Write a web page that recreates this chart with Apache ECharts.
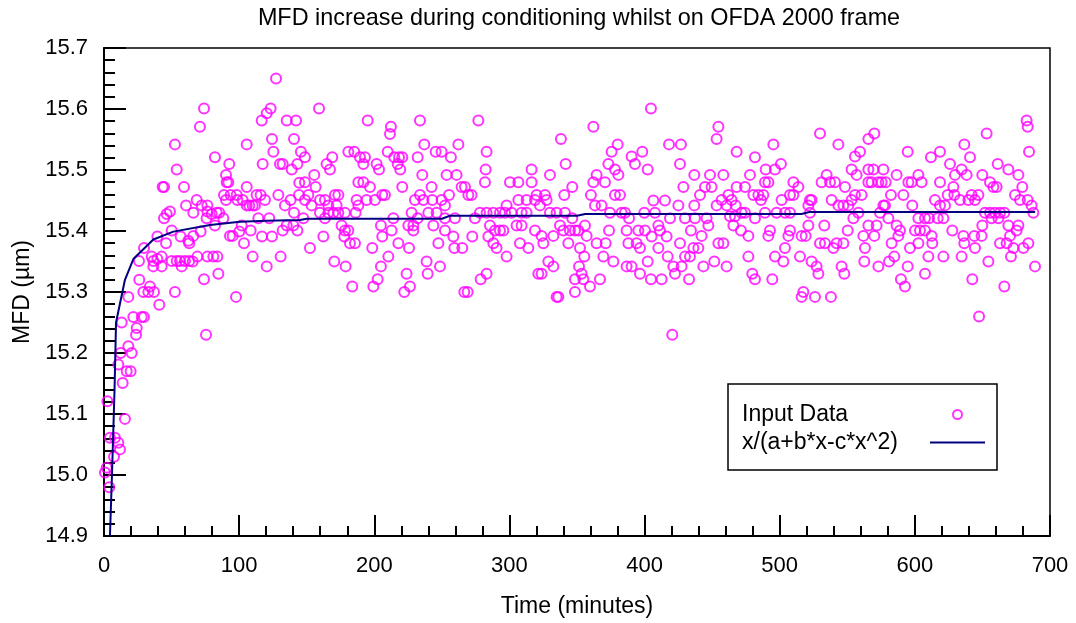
<!DOCTYPE html>
<html>
<head>
<meta charset="utf-8">
<script src="https://cdn.jsdelivr.net/npm/echarts@6/dist/echarts.min.js"></script>
<style>
html,body{margin:0;padding:0;background:#fff;}
#chart{width:1076px;height:623px;}
</style>
</head>
<body>
<div id="chart"></div>
<script>
// ---- Data ----
const chartTitle = 'MFD increase during conditioning whilst on OFDA 2000 frame';
const xAxisName = 'Time (minutes)';
const yAxisName = 'MFD (µm)';
const seriesNames = ['Input Data', 'x/(a+b*x-c*x^2)'];
const xTicks = [0, 100, 200, 300, 400, 500, 600, 700];
const yTicks = [14.9, 15.0, 15.1, 15.2, 15.3, 15.4, 15.5, 15.6, 15.7];

// Input data, [time (min), MFD (µm)], grouped by time range
const input0to145 = [[2.0,15.012],[0.7,15.004],[3.9,14.980],[2.5,15.121],[8.1,15.061],[4.4,15.061],[10.6,15.053],[11.8,15.042],[7.4,15.030],[15.5,15.092],[13.8,15.151],[16.8,15.170],[19.7,15.170],[10.6,15.181],[12.3,15.200],[20.5,15.200],[18.0,15.211],[23.7,15.230],[24.2,15.241],[21.7,15.259],[27.9,15.259],[29.6,15.259],[13.1,15.250],[18.0,15.292],[26.1,15.320],[29.1,15.300],[32.8,15.300],[34.0,15.309],[37.0,15.300],[40.9,15.279],[52.5,15.300],[75.5,15.230],[97.7,15.292],[74.0,15.321],[84.6,15.330],[25.9,15.351],[29.6,15.372],[35.3,15.358],[36.5,15.351],[39.5,15.354],[36.5,15.342],[42.7,15.342],[42.7,15.358],[50.1,15.351],[53.8,15.351],[56.2,15.351],[57.5,15.342],[59.9,15.351],[63.1,15.351],[65.6,15.350],[69.1,15.358],[76.5,15.358],[80.9,15.358],[83.9,15.358],[110.0,15.358],[120.4,15.342],[130.7,15.358],[45.9,15.380],[39.5,15.391],[50.1,15.401],[56.7,15.391],[63.1,15.380],[62.4,15.384],[66.1,15.392],[71.5,15.399],[82.1,15.409],[75.9,15.421],[79.7,15.428],[83.4,15.430],[85.3,15.430],[88.3,15.421],[93.2,15.392],[95.2,15.392],[103.6,15.380],[100.1,15.399],[101.9,15.409],[108.5,15.401],[116.9,15.391],[124.3,15.391],[132.2,15.401],[135.2,15.409],[140.1,15.409],[143.1,15.401],[122.3,15.421],[114.2,15.421],[44.4,15.421],[46.4,15.428],[48.8,15.432],[60.7,15.442],[66.1,15.430],[68.6,15.451],[72.3,15.442],[76.5,15.442],[76.5,15.432],[88.8,15.459],[90.3,15.451],[93.7,15.459],[98.2,15.459],[98.7,15.451],[102.6,15.451],[105.6,15.472],[105.6,15.442],[107.5,15.442],[110.0,15.442],[111.7,15.442],[112.9,15.459],[115.9,15.459],[119.1,15.451],[129.0,15.459],[133.9,15.442],[138.1,15.451],[140.6,15.430],[144.3,15.459],[144.5,15.479],[43.4,15.472],[44.4,15.472],[59.2,15.472],[53.8,15.501],[52.5,15.542],[71.0,15.571],[74.0,15.601],[82.1,15.521],[92.7,15.510],[90.3,15.492],[90.8,15.480],[92.0,15.480],[105.6,15.542],[117.4,15.510],[124.3,15.551],[125.3,15.530],[130.2,15.510],[132.2,15.510],[138.9,15.501],[140.6,15.551],[143.1,15.510],[116.7,15.581],[120.4,15.593],[123.3,15.601],[135.2,15.581],[142.1,15.581],[127.3,15.650]];

const input145to285 = [[159.1,15.601],[145.7,15.530],[148.7,15.521],[148.7,15.480],[155.6,15.492],[156.6,15.472],[151.2,15.459],[148.7,15.451],[153.6,15.442],[159.8,15.451],[163.5,15.451],[166.0,15.442],[170.9,15.459],[173.4,15.459],[172.1,15.442],[147.5,15.421],[159.8,15.430],[163.5,15.421],[166.0,15.430],[169.7,15.430],[173.4,15.430],[178.3,15.430],[162.3,15.391],[152.4,15.372],[170.4,15.350],[178.8,15.342],[183.7,15.309],[175.8,15.409],[178.3,15.401],[180.8,15.401],[177.8,15.391],[182.0,15.380],[185.7,15.380],[186.2,15.430],[188.2,15.442],[186.9,15.451],[191.9,15.480],[188.2,15.480],[196.8,15.472],[194.3,15.451],[200.5,15.451],[164.7,15.510],[167.2,15.501],[168.9,15.521],[180.8,15.530],[185.2,15.530],[189.4,15.521],[193.1,15.521],[191.9,15.510],[201.7,15.510],[203.5,15.501],[195.1,15.581],[212.3,15.571],[211.6,15.559],[209.9,15.530],[214.8,15.521],[218.3,15.521],[220.7,15.521],[217.3,15.510],[219.2,15.501],[207.9,15.459],[205.9,15.459],[220.7,15.472],[204.9,15.409],[205.9,15.391],[212.8,15.401],[214.1,15.421],[198.5,15.372],[204.9,15.342],[210.4,15.358],[202.5,15.321],[199.3,15.309],[217.8,15.380],[225.7,15.372],[223.9,15.330],[226.4,15.309],[222.2,15.300],[227.6,15.430],[225.2,15.409],[228.9,15.409],[228.9,15.401],[232.1,15.421],[230.1,15.451],[233.8,15.459],[236.3,15.451],[232.1,15.521],[235.5,15.492],[233.8,15.581],[237.0,15.542],[242.4,15.472],[242.9,15.451],[240.0,15.430],[243.7,15.409],[246.1,15.430],[249.8,15.451],[252.3,15.442],[255.3,15.459],[253.5,15.492],[260.9,15.492],[264.6,15.472],[267.1,15.472],[269.6,15.459],[272.0,15.459],[256.7,15.521],[245.4,15.530],[249.8,15.530],[262.2,15.542],[277.0,15.581],[283.1,15.530],[282.4,15.501],[281.9,15.480],[252.3,15.421],[259.7,15.421],[252.3,15.401],[258.5,15.391],[259.2,15.372],[265.1,15.372],[247.4,15.380],[248.6,15.342],[238.7,15.350],[239.5,15.330],[266.6,15.300],[269.1,15.300],[272.5,15.391],[274.5,15.421],[278.2,15.430],[283.1,15.430],[285.6,15.409],[284.4,15.391],[278.7,15.321],[283.1,15.330]];

const input285to425 = [[404.7,15.601],[362.1,15.571],[338.1,15.551],[341.6,15.510],[316.4,15.501],[330.0,15.492],[300.4,15.480],[306.6,15.480],[316.4,15.480],[346.5,15.472],[340.6,15.459],[320.1,15.459],[326.3,15.459],[297.9,15.442],[306.6,15.451],[312.7,15.451],[318.9,15.451],[322.6,15.442],[327.5,15.451],[288.1,15.430],[293.0,15.430],[296.7,15.430],[301.6,15.430],[309.0,15.430],[312.7,15.430],[330.0,15.430],[334.9,15.430],[341.1,15.430],[346.5,15.421],[289.3,15.401],[293.0,15.401],[295.5,15.401],[305.3,15.409],[309.0,15.409],[288.1,15.380],[290.5,15.372],[297.9,15.358],[307.8,15.380],[314.0,15.372],[318.9,15.401],[323.8,15.392],[325.1,15.380],[332.5,15.392],[337.4,15.409],[339.9,15.401],[344.8,15.401],[348.5,15.401],[351.0,15.401],[355.9,15.409],[357.1,15.392],[343.6,15.380],[352.2,15.372],[355.4,15.358],[328.8,15.350],[332.5,15.342],[321.4,15.330],[323.8,15.330],[351.5,15.342],[353.4,15.330],[348.5,15.321],[354.7,15.321],[359.6,15.309],[348.5,15.300],[336.2,15.292],[334.9,15.292],[367.0,15.321],[362.1,15.480],[364.5,15.492],[360.3,15.459],[363.3,15.442],[368.2,15.442],[370.7,15.480],[373.2,15.510],[375.6,15.530],[380.1,15.542],[378.1,15.501],[380.6,15.492],[378.1,15.459],[381.8,15.459],[374.4,15.430],[383.0,15.430],[385.5,15.430],[388.5,15.421],[399.8,15.430],[407.7,15.430],[410.2,15.409],[406.5,15.450],[415.1,15.450],[418.8,15.421],[373.7,15.401],[386.7,15.401],[395.4,15.401],[400.3,15.401],[405.2,15.391],[411.4,15.401],[416.3,15.391],[364.5,15.380],[371.2,15.380],[369.5,15.358],[376.9,15.350],[388.0,15.380],[394.1,15.380],[396.6,15.372],[410.2,15.372],[417.1,15.358],[386.7,15.342],[390.4,15.342],[396.6,15.330],[402.3,15.350],[404.7,15.321],[412.6,15.321],[421.3,15.342],[422.5,15.330],[420.5,15.230],[390.4,15.522],[392.9,15.510],[398.3,15.530],[402.3,15.501],[418.1,15.542]];

const input425to565 = [[454.6,15.571],[453.3,15.551],[426.9,15.542],[495.3,15.542],[468.1,15.530],[481.7,15.521],[426.2,15.510],[448.4,15.492],[458.3,15.492],[436.8,15.492],[428.7,15.472],[444.7,15.472],[449.6,15.472],[441.0,15.459],[425.0,15.442],[436.8,15.442],[453.3,15.442],[457.0,15.451],[462.0,15.459],[464.4,15.451],[468.1,15.472],[474.3,15.472],[467.4,15.442],[460.7,15.442],[463.2,15.424],[466.9,15.424],[471.8,15.430],[474.3,15.430],[429.9,15.421],[437.3,15.421],[445.9,15.421],[480.5,15.459],[484.2,15.459],[487.9,15.459],[486.1,15.451],[478.0,15.492],[489.6,15.501],[496.5,15.501],[500.9,15.510],[491.6,15.480],[489.1,15.480],[501.4,15.451],[481.7,15.421],[489.1,15.430],[497.7,15.430],[503.9,15.430],[507.6,15.430],[510.1,15.480],[513.8,15.472],[510.1,15.459],[507.6,15.459],[522.4,15.451],[523.6,15.451],[521.2,15.442],[522.4,15.430],[529.8,15.560],[543.4,15.542],[534.7,15.492],[531.0,15.480],[537.2,15.480],[540.9,15.480],[548.3,15.472],[538.4,15.451],[543.4,15.442],[547.1,15.442],[550.8,15.442],[553.2,15.451],[555.7,15.459],[560.6,15.459],[556.9,15.492],[555.7,15.522],[559.4,15.530],[553.2,15.501],[565.6,15.551],[565.6,15.501],[565.6,15.480],[558.2,15.430],[554.5,15.421],[426.2,15.380],[434.3,15.401],[442.2,15.392],[447.2,15.409],[454.6,15.380],[458.3,15.380],[465.7,15.409],[471.3,15.401],[476.8,15.392],[491.6,15.392],[492.8,15.401],[507.6,15.401],[506.4,15.392],[516.2,15.392],[519.2,15.392],[521.2,15.409],[533.0,15.409],[529.8,15.380],[533.5,15.380],[539.7,15.372],[542.1,15.380],[547.1,15.380],[550.3,15.401],[561.9,15.392],[565.6,15.409],[563.1,15.372],[436.1,15.372],[439.8,15.372],[429.9,15.358],[433.6,15.358],[443.5,15.342],[451.6,15.350],[460.7,15.342],[476.8,15.358],[496.5,15.358],[503.9,15.372],[502.7,15.350],[515.0,15.358],[523.6,15.350],[527.3,15.342],[528.6,15.330],[545.8,15.342],[547.8,15.330],[562.6,15.350],[427.4,15.342],[432.9,15.321],[479.7,15.330],[481.7,15.321],[494.5,15.321],[517.5,15.300],[516.2,15.292],[526.1,15.292],[537.9,15.292]];

const input565to690 = [[570.0,15.560],[594.7,15.530],[618.6,15.530],[611.9,15.521],[636.6,15.542],[640.8,15.521],[653.1,15.560],[684.5,15.530],[682.7,15.581],[683.5,15.571],[569.3,15.501],[576.7,15.501],[586.5,15.492],[602.6,15.492],[626.0,15.510],[634.6,15.501],[629.7,15.492],[638.3,15.492],[649.9,15.492],[661.3,15.510],[669.2,15.501],[676.6,15.492],[568.0,15.480],[573.0,15.480],[575.4,15.480],[578.4,15.480],[595.2,15.480],[597.6,15.480],[605.0,15.480],[618.6,15.480],[628.5,15.472],[655.6,15.480],[658.1,15.472],[660.5,15.472],[679.5,15.472],[582.3,15.459],[591.5,15.459],[598.1,15.442],[577.9,15.442],[576.7,15.442],[614.9,15.451],[618.6,15.442],[622.3,15.442],[624.3,15.459],[629.2,15.459],[633.4,15.451],[639.6,15.451],[642.0,15.459],[647.0,15.459],[644.5,15.451],[674.1,15.459],[677.8,15.451],[683.5,15.451],[686.4,15.442],[687.7,15.430],[574.2,15.430],[580.4,15.421],[602.6,15.421],[607.5,15.421],[610.5,15.421],[616.9,15.421],[621.1,15.421],[651.9,15.430],[655.6,15.430],[659.3,15.430],[663.0,15.430],[666.2,15.430],[656.8,15.421],[661.8,15.421],[571.7,15.409],[586.5,15.409],[570.0,15.392],[589.0,15.401],[587.8,15.392],[600.1,15.401],[603.8,15.401],[607.5,15.401],[612.4,15.392],[627.7,15.401],[635.9,15.392],[644.0,15.392],[649.4,15.392],[649.9,15.409],[669.2,15.409],[676.6,15.409],[675.3,15.401],[670.4,15.392],[582.8,15.380],[602.6,15.380],[612.9,15.380],[636.6,15.380],[663.0,15.380],[667.9,15.380],[684.0,15.380],[596.4,15.372],[644.5,15.372],[672.9,15.372],[680.3,15.372],[573.0,15.342],[580.9,15.350],[584.8,15.358],[594.7,15.342],[610.0,15.358],[621.1,15.358],[634.6,15.358],[654.4,15.350],[671.1,15.358],[688.9,15.342],[589.7,15.321],[592.7,15.309],[607.5,15.330],[642.5,15.321],[666.2,15.309],[647.5,15.260]];

// Fitted curve
const fitTime = [4.4, 5.9, 7.8, 8.9, 15.5, 21.7, 36.5, 51.3, 78.4, 100.6, 120.4, 145, 150, 250, 256, 350, 356, 516, 522, 689];
const fitMfd  = [14.90, 15.00, 15.14, 15.25, 15.32, 15.354, 15.386, 15.399, 15.410, 15.415, 15.417, 15.418, 15.420, 15.420, 15.425, 15.425, 15.428, 15.428, 15.431, 15.431];

// ---- Build chart ----
const inputData = [].concat(input0to145, input145to285, input285to425, input425to565, input565to690);
const fitData = fitTime.map((t, i) => [t, fitMfd[i]]);

const FONT = '"Liberation Sans", Arial, sans-serif';
const chart = echarts.init(document.getElementById('chart'), null, {renderer: 'canvas'});

chart.setOption({
  backgroundColor: '#ffffff',
  animation: false,
  title: {
    text: chartTitle,
    left: 579,
    top: 7,
    padding: 0,
    textAlign: 'center',
    textStyle: {fontFamily: FONT, fontSize: 23.4, fontWeight: 'normal', color: '#000'}
  },
  grid: {
    left: 104, top: 48, right: 26, bottom: 86,
    show: true, borderColor: '#000', borderWidth: 1.5, backgroundColor: 'transparent'
  },
  legend: {
    orient: 'vertical',
    left: 728, top: 384,
    align: 'right',
    padding: [19, 12, 16, 14],
    itemGap: 5,
    itemWidth: 55,
    itemHeight: 9,
    borderColor: '#000',
    borderWidth: 1.5,
    backgroundColor: '#fff',
    formatter: function (name) { return '{t|' + name + '}'; },
    textStyle: {
      fontFamily: FONT, fontSize: 23, color: '#000',
      rich: {t: {width: 183, align: 'left', fontFamily: FONT, fontSize: 23, color: '#000'}}
    },
    data: [
      {name: seriesNames[0], icon: 'circle', itemStyle: {color: 'rgba(0,0,0,0)', borderColor: '#ff00ff', borderWidth: 2}},
      {name: seriesNames[1], icon: 'path://M0,0H55V2H0Z', itemStyle: {color: '#000080', borderWidth: 0}}
    ]
  },
  xAxis: {
    type: 'value',
    min: xTicks[0], max: xTicks[xTicks.length - 1], interval: 100,
    name: xAxisName, nameLocation: 'middle', nameGap: 59,
    nameTextStyle: {fontFamily: FONT, fontSize: 23, color: '#000'},
    axisLine: {show: true, onZero: false, lineStyle: {color: '#000', width: 2}},
    axisTick: {show: true, inside: true, length: 21, lineStyle: {color: '#000', width: 2}},
    minorTick: {show: true, splitNumber: 5, length: 10, lineStyle: {color: '#000', width: 2}},
    splitLine: {show: false},
    axisLabel: {fontFamily: FONT, fontSize: 22, color: '#000', margin: 19}
  },
  yAxis: {
    type: 'value',
    min: yTicks[0], max: yTicks[yTicks.length - 1], interval: 0.1,
    name: yAxisName, nameLocation: 'middle', nameGap: 70, nameRotate: 90,
    nameTextStyle: {fontFamily: FONT, fontSize: 23, color: '#000'},
    axisLine: {show: true, onZero: false, lineStyle: {color: '#000', width: 2}},
    axisTick: {show: true, inside: true, length: 22, lineStyle: {color: '#000', width: 2}},
    minorTick: {show: true, splitNumber: 5, length: 11, lineStyle: {color: '#000', width: 2}},
    splitLine: {show: false},
    axisLabel: {fontFamily: FONT, fontSize: 22, color: '#000', margin: 16,
      formatter: function (v) { return v.toFixed(1); }}
  },
  series: [
    {
      name: seriesNames[0],
      type: 'scatter',
      data: inputData,
      symbol: 'circle',
      symbolSize: 10,
      itemStyle: {color: 'rgba(0,0,0,0)', borderColor: '#ff00ff', borderWidth: 2},
      z: 2
    },
    {
      name: seriesNames[1],
      type: 'line',
      data: fitData,
      symbol: 'none',
      showSymbol: false,
      lineStyle: {color: '#000080', width: 2},
      itemStyle: {color: '#000080'},
      clip: true,
      z: 3
    }
  ]
});
</script>
</body>
</html>
